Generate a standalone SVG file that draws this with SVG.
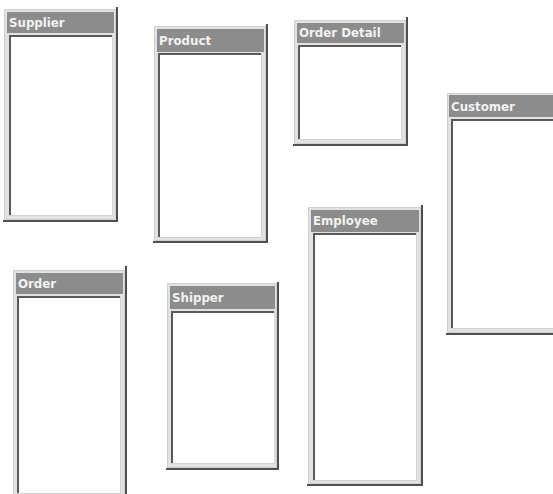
<svg xmlns="http://www.w3.org/2000/svg" width="553" height="494" viewBox="0 0 553 494">
<style>
.frame{fill:#e2e2e2;stroke:#d0d0d0;stroke-width:1}
.shadow{fill:#505050}
.head{fill:#8c8c8c}
.inner{fill:#ffffff}
.innerdark{fill:#5a5a5a}
.innerlight{fill:#d4d4d4}
.title{font-family:"DejaVu Sans",Verdana,sans-serif;font-weight:bold;font-size:11.8px;fill:#f2f2f2}
</style>
<rect width="553" height="494" fill="#ffffff"/>
<g id="connectors"></g>

<g id="supplier" transform="translate(4,9)">
<rect class="shadow" x="112" y="-2" width="2" height="214"/>
<rect class="shadow" x="-1" y="211" width="115" height="2"/>
<rect class="frame" x="0.5" y="0.5" width="111" height="210"/>
<rect class="head" x="3" y="3" width="107" height="21"/>
<rect class="innerlight" x="5" y="26" width="104" height="181"/>
<rect class="inner" x="5" y="26" width="103" height="180"/>
<rect class="innerdark" x="5" y="26" width="103" height="2"/>
<rect class="innerdark" x="5" y="26" width="2" height="180"/>
<text class="title" x="5" y="18">Supplier</text>
</g>

<g id="product" transform="translate(154,26)">
<rect class="shadow" x="112" y="-2" width="2" height="218"/>
<rect class="shadow" x="-1" y="215" width="115" height="2"/>
<rect class="frame" x="0.5" y="0.5" width="111" height="214"/>
<rect class="head" x="3" y="3" width="107" height="23"/>
<rect class="innerlight" x="4" y="27" width="104" height="185"/>
<rect class="inner" x="4" y="27" width="103" height="184"/>
<rect class="innerdark" x="4" y="27" width="103" height="2"/>
<rect class="innerdark" x="4" y="27" width="2" height="184"/>
<text class="title" x="5" y="19">Product</text>
</g>

<g id="order-detail" transform="translate(294,20)">
<rect class="shadow" x="112" y="-3" width="2" height="128"/>
<rect class="shadow" x="-1" y="124" width="115" height="2"/>
<rect class="frame" x="0.5" y="0.5" width="111" height="123"/>
<rect class="head" x="3" y="3" width="107" height="20"/>
<rect class="innerlight" x="4" y="25" width="104" height="95"/>
<rect class="inner" x="4" y="25" width="103" height="94"/>
<rect class="innerdark" x="4" y="25" width="103" height="2"/>
<rect class="innerdark" x="4" y="25" width="2" height="94"/>
<text class="title" x="5" y="17">Order Detail</text>
</g>

<g id="customer" transform="translate(447,93)">
<rect class="shadow" x="-1" y="240" width="115" height="2"/>
<rect class="frame" x="0.5" y="0.5" width="111" height="239"/>
<rect class="head" x="2" y="2" width="107" height="22"/>
<rect class="innerlight" x="4" y="26" width="104" height="210"/>
<rect class="inner" x="4" y="26" width="103" height="209"/>
<rect class="innerdark" x="4" y="26" width="103" height="2"/>
<rect class="innerdark" x="4" y="26" width="2" height="209"/>
<text class="title" x="4" y="18">Customer</text>
</g>

<g id="order" transform="translate(13,270)">
<rect class="shadow" x="112" y="-4" width="2" height="240"/>
<rect class="frame" x="0.5" y="0.5" width="111" height="240"/>
<rect class="head" x="3" y="3" width="107" height="21"/>
<rect class="innerlight" x="4" y="26" width="104" height="198"/>
<rect class="inner" x="4" y="26" width="103" height="197"/>
<rect class="innerdark" x="4" y="26" width="103" height="2"/>
<rect class="innerdark" x="4" y="26" width="2" height="197"/>
<text class="title" x="5" y="18">Order</text>
</g>

<g id="shipper" transform="translate(167,283)">
<rect class="shadow" x="110" y="-1" width="2" height="188"/>
<rect class="shadow" x="-1" y="185" width="113" height="2"/>
<rect class="frame" x="0.5" y="0.5" width="109" height="184"/>
<rect class="head" x="3" y="3" width="105" height="23"/>
<rect class="innerlight" x="4" y="28" width="104" height="153"/>
<rect class="inner" x="4" y="28" width="103" height="152"/>
<rect class="innerdark" x="4" y="28" width="103" height="2"/>
<rect class="innerdark" x="4" y="28" width="2" height="152"/>
<text class="title" x="5" y="19">Shipper</text>
</g>

<g id="employee" transform="translate(308,207)">
<rect class="shadow" x="113" y="-2" width="2" height="281"/>
<rect class="shadow" x="-1" y="277" width="116" height="2"/>
<rect class="frame" x="0.5" y="0.5" width="112" height="276"/>
<rect class="head" x="3" y="3" width="108" height="22"/>
<rect class="innerlight" x="5" y="26" width="104" height="248"/>
<rect class="inner" x="5" y="26" width="103" height="247"/>
<rect class="innerdark" x="5" y="26" width="103" height="2"/>
<rect class="innerdark" x="5" y="26" width="2" height="247"/>
<text class="title" x="5" y="18">Employee</text>
</g>
</svg>
